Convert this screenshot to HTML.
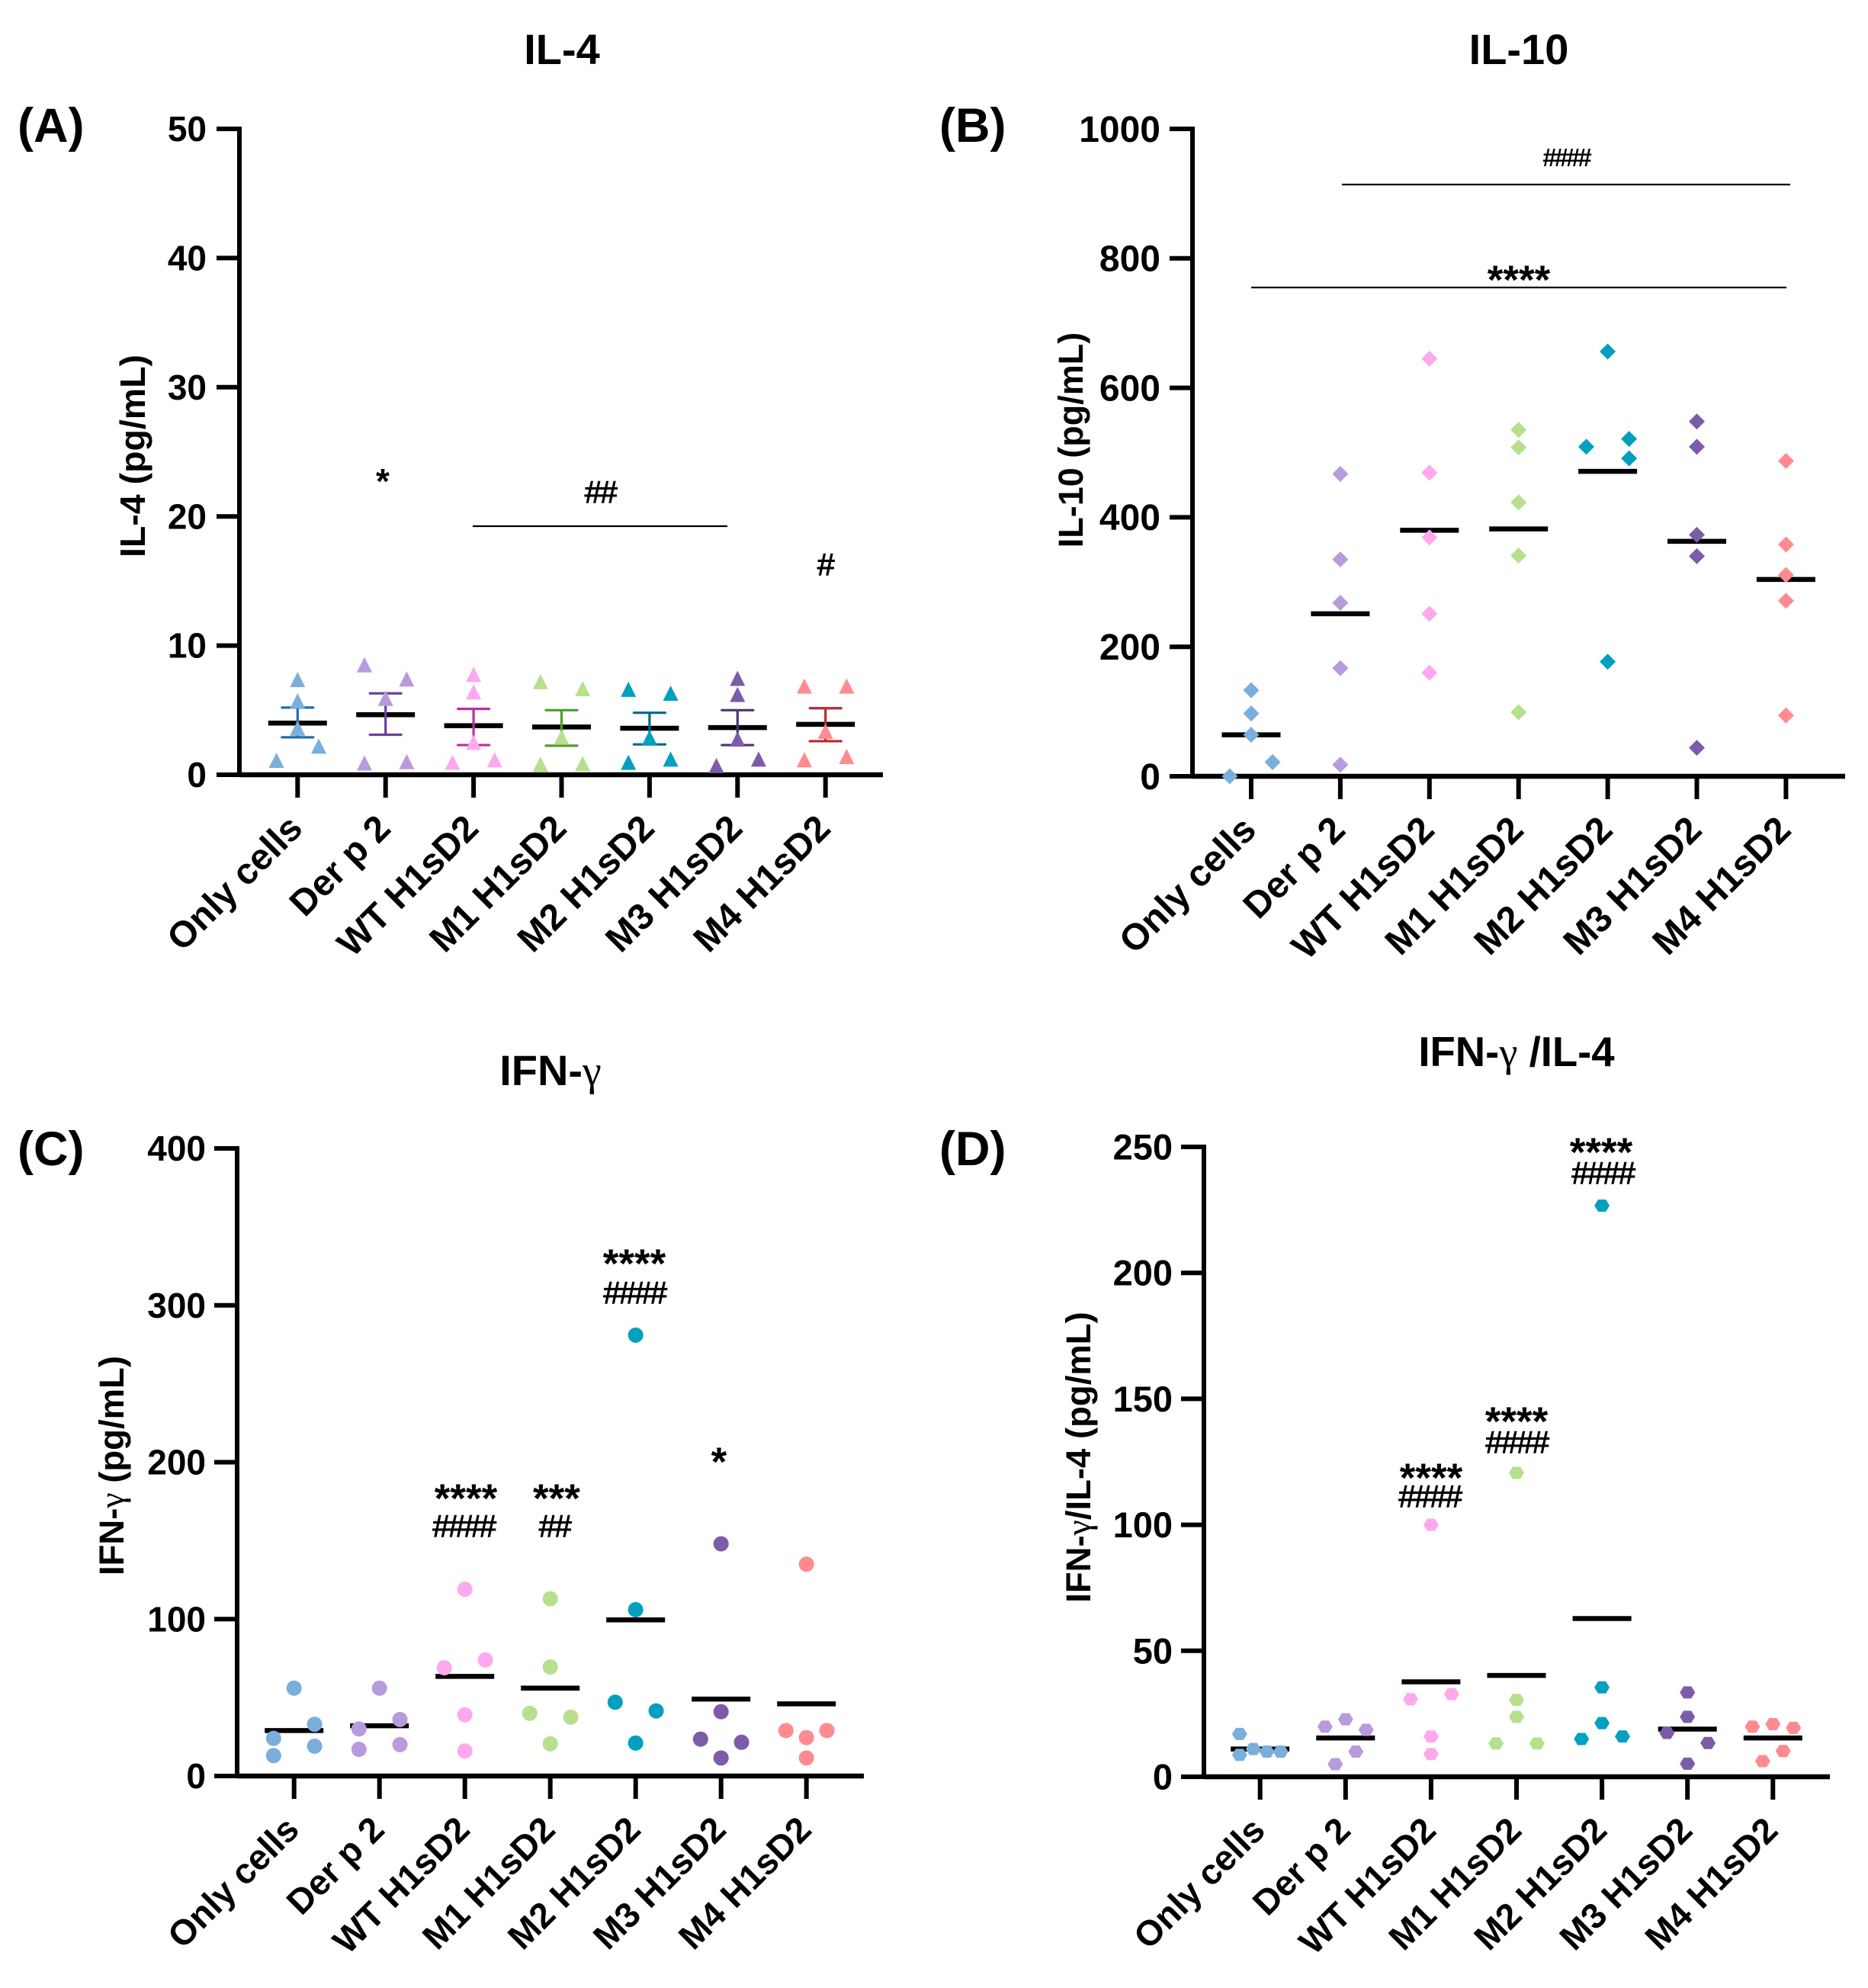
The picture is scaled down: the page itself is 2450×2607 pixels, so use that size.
<!DOCTYPE html>
<html lang="en">
<head>
<meta charset="utf-8">
<title>Cytokine levels: IL-4, IL-10, IFN-γ and IFN-γ/IL-4</title>
<style>
html,body{margin:0;padding:0;background:#fff}
svg{display:block}
text{font-family:"Liberation Sans",Arial,sans-serif;fill:#000}
.b{font-weight:700}
.title{font-size:56px;font-weight:700;text-anchor:middle}
.panel{font-size:63px;font-weight:700}
.ytitle{font-size:45.5px;font-weight:700;text-anchor:middle}
.gamma{font-family:"Liberation Serif",serif;font-weight:400}
.star{font-size:53px;font-weight:700;text-anchor:middle}
.hash{font-size:41px;font-weight:400;text-anchor:middle;letter-spacing:-2.5px;stroke:#000;stroke-width:1px}
.sig{stroke:#000;stroke-width:2.2px}
</style>
</head>
<body>
<svg id="figure" xmlns="http://www.w3.org/2000/svg" width="2450" height="2607" viewBox="0 0 2450 2607">
  <rect width="2450" height="2607" fill="#fff"/>

  <text class="title" x="737" y="84">IL-4</text>
  <text class="title" x="1992" y="84">IL-10</text>
  <text class="title" x="722" y="1423">IFN-<tspan class="gamma">γ</tspan></text>
  <text class="title" style="font-size:54.5px" x="1989" y="1398">IFN-<tspan class="gamma">γ</tspan> /IL-4</text>

  <text class="panel" x="23" y="186">(A)</text>
  <text class="panel" x="1232" y="186">(B)</text>
  <text class="panel" x="23" y="1528">(C)</text>
  <text class="panel" x="1232" y="1528">(D)</text>

  <text class="ytitle" style="font-size:46.5px" transform="translate(190,598) rotate(-90)">IL-4 (pg/mL)</text>
  <text class="ytitle" style="font-size:45px" transform="translate(1420,577) rotate(-90)">IL-10 (pg/mL)</text>
  <text class="ytitle" transform="translate(162,1922) rotate(-90)">IFN-<tspan class="gamma">γ</tspan> (pg/mL)</text>
  <text class="ytitle" transform="translate(1430,1911) rotate(-90)">IFN-<tspan class="gamma">γ</tspan>/IL-4 (pg/mL)</text>

  <!-- significance annotations -->
  <text class="star" style="font-size:46px" x="502" y="647">*</text>
  <line class="sig" x1="620" y1="690" x2="954" y2="690"/>
  <text class="hash" x="787" y="659">##</text>
  <text class="hash" x="1082" y="754">#</text>

  <line class="sig" x1="1760" y1="242" x2="2348" y2="242"/>
  <text class="hash" style="font-size:33px;letter-spacing:-3px;font-weight:700;stroke-width:0" x="2054" y="218">####</text>
  <line class="sig" x1="1641" y1="377" x2="2343" y2="377"/>
  <text class="star" x="1992" y="385">****</text>

  <text class="star" x="611" y="1983">****</text>
  <text class="hash" x="608" y="2015">####</text>
  <text class="star" x="730" y="1983">***</text>
  <text class="hash" x="727" y="2015">##</text>
  <text class="star" x="832" y="1675">****</text>
  <text class="hash" x="832" y="1709">####</text>
  <text class="star" x="943" y="1935">*</text>

  <text class="star" x="1877" y="1956">****</text>
  <text class="hash" x="1875" y="1976">####</text>
  <text class="star" x="1989" y="1882">****</text>
  <text class="hash" x="1989" y="1905">####</text>
  <text class="star" x="2100" y="1529">****</text>
  <text class="hash" x="2102" y="1552">####</text>

  <g id="plots"></g>
</svg>

<script>
const categories = ['Only cells', 'Der p 2', 'WT H1sD2', 'M1 H1sD2', 'M2 H1sD2', 'M3 H1sD2', 'M4 H1sD2'];

const il4Ticks = [0, 10, 20, 30, 40, 50];
const il4Values = [
  [7.25, 5.6, 3.5, 1.0, 2.1],
  [8.4, 7.3, 5.8, 0.8, 0.9],
  [7.65, 6.3, 2.4, 0.85, 1.05],
  [7.1, 6.55, 2.8, 0.7, 0.75],
  [6.5, 6.2, 2.75, 0.85, 1.1],
  [7.35, 6.1, 2.65, 0.6, 1.1],
  [6.75, 6.75, 3.25, 1.05, 1.3]
];
const il4Slots = [
  [0, 0, 0, -1, 1],
  [-1, 1, 0, -1, 1],
  [0, 0, 0, -1, 1],
  [-1, 1, 0, -1, 1],
  [-1, 1, 0, -1, 1],
  [0, 0, 0, -1, 1],
  [-1, 1, 0, -1, 1]
];
const il4Means = [4.0, 4.65, 3.8, 3.7, 3.6, 3.65, 3.9];
const il4Upper = [5.2, 6.3, 5.1, 5.0, 4.8, 5.0, 5.15];
const il4Lower = [2.9, 3.1, 2.3, 2.25, 2.35, 2.3, 2.6];

const il10Ticks = [0, 200, 400, 600, 800, 1000];
const il10Values = [
  [133, 97, 64, 22, 0],
  [467, 335, 268, 167, 18],
  [645, 469, 369, 251, 160],
  [535, 508, 423, 341, 99],
  [656, 521, 509, 491, 177],
  [548, 509, 373, 340, 44],
  [487, 358, 311, 271, 94]
];
const il10Slots = [
  [0, 0, 0, 1, -1],
  [0, 0, 0, 0, 0],
  [0, 0, 0, 0, 0],
  [0, 0, 0, 0, 0],
  [0, 1, -1, 1, 0],
  [0, 0, 0, 0, 0],
  [0, 0, 0, 0, 0]
];
const il10Means = [64, 251, 380, 382, 471, 363, 304];

const ifnTicks = [0, 100, 200, 300, 400];
const ifnValues = [
  [56, 33, 24, 19, 13],
  [56, 36, 30, 20, 17],
  [119, 74, 69, 39, 16],
  [113, 69.5, 40, 37.5, 20.5],
  [281, 106, 47, 41.5, 21],
  [148, 41, 23.5, 21.5, 11.5],
  [135, 29, 29, 24.5, 11.5]
];
const ifnSlots = [
  [0, 1, -1, 1, -1],
  [0, 1, -1, 1, -1],
  [0, 1, -1, 0, 0],
  [0, 0, -1, 1, 0],
  [0, 0, -1, 1, 0],
  [0, 0, -1, 1, 0],
  [0, -1, 1, 0, 0]
];
const ifnMeans = [29, 32, 63.5, 56, 99.5, 49, 46];

const ratioTicks = [0, 50, 100, 150, 200, 250];
const ratioValues = [
  [17, 11, 8.7, 10, 10],
  [22.8, 19.9, 18.6, 10, 5],
  [100, 32.8, 30.8, 16, 9],
  [120.6, 30.5, 23.8, 13.2, 13.2],
  [226.7, 35.5, 21.3, 16, 15],
  [33.5, 23.8, 17.4, 13.4, 5.2],
  [20.9, 19.9, 19.4, 10.2, 6.2]
];
const ratioSlots = [
  [-1, -0.33, -1, 0.33, 1],
  [0, -1, 1, 0.5, -0.5],
  [0, 1, -1, 0, 0],
  [0, 0, 0, -1, 1],
  [0, 0, 0, 1, -1],
  [0, 0, -1, 1, 0],
  [0, -1, 1, 0.5, -0.5]
];
const ratioMeans = [11, 15.4, 37.7, 40.2, 62.8, 18.9, 15.4];

const pointColors = ['#7aaedc', '#b89bdc', '#ffa8ee', '#b6e08e', '#00a0be', '#7c5ca8', '#ff8a90'];
const errorColors = ['#1f6fa8', '#6b3fa0', '#b8309e', '#4b9e2a', '#006a85', '#4a3570', '#b8282c'];

const SVGNS = 'http://www.w3.org/2000/svg';
const root = document.getElementById('plots');

function make(parent, tag, attrs, text) {
  const el = document.createElementNS(SVGNS, tag);
  for (const k in attrs) el.setAttribute(k, attrs[k]);
  if (text !== undefined) el.textContent = text;
  parent.appendChild(el);
  return el;
}

function markerPoints(shape, x, y) {
  if (shape === 'triangle') return `${x},${y - 12} ${x + 10},${y + 8} ${x - 10},${y + 8}`;
  if (shape === 'diamond') return `${x},${y - 10.5} ${x + 10.5},${y} ${x},${y + 10.5} ${x - 10.5},${y}`;
  return `${x - 10},${y} ${x - 5},${y - 8} ${x + 5},${y - 8} ${x + 10},${y} ${x + 5},${y + 8} ${x - 5},${y + 8}`;
}

function drawPanel(cfg) {
  const maxTick = Math.max.apply(null, cfg.ticks);
  const yScale = v => cfg.y0 - (v / maxTick) * (cfg.y0 - cfg.yTop);
  const xScale = i => cfg.x0 + i * cfg.step;
  const jitter = cfg.step * 0.24;

  const g = make(root, 'g', {});
  
  

  const yAxis = make(g, 'line', { x1: cfg.axisX, x2: cfg.axisX, y1: cfg.yTop - 3, y2: cfg.y0 + 3, stroke: '#000', 'stroke-width': 6 });
  
  

  const xAxis = make(g, 'line', { x1: cfg.axisX, x2: cfg.right, y1: cfg.y0, y2: cfg.y0, stroke: '#000', 'stroke-width': 6.5 });
  
  

  cfg.ticks.forEach(t => {
    const y = yScale(t);
    const mark = make(g, 'line', { x1: cfg.axisX - 30, x2: cfg.axisX, y1: y, y2: y, stroke: '#000', 'stroke-width': 6 });
    
    
    const label = make(g, 'text', { x: cfg.labelX, y: y + cfg.tickSize * 0.35, 'text-anchor': 'end', 'font-size': cfg.tickSize, 'font-weight': 700 }, String(t));
    
    
  });

  categories.forEach((c, i) => {
    const x = xScale(i);
    const mark = make(g, 'line', { x1: x, x2: x, y1: cfg.y0, y2: cfg.y0 + 30, stroke: '#000', 'stroke-width': 6 });
    
    
    const lx = x + 9;
    const ly = cfg.y0 + 73;
    const label = make(g, 'text', { transform: `translate(${lx},${ly}) rotate(-45)`, 'text-anchor': 'end', 'font-size': cfg.catSize, 'font-weight': 700 }, c);
    
    

    const mean = make(g, 'line', { x1: x - 38.5, x2: x + 38.5, y1: yScale(cfg.means[i]), y2: yScale(cfg.means[i]), stroke: '#000', 'stroke-width': 6.5 });
    
    

    if (cfg.upper) {
      const stem = make(g, 'line', { x1: x, x2: x, y1: yScale(cfg.upper[i]), y2: yScale(cfg.lower[i]), stroke: errorColors[i], 'stroke-width': 3.2 });
      
      
      const capTop = make(g, 'line', { x1: x - 20.5, x2: x + 20.5, y1: yScale(cfg.upper[i]), y2: yScale(cfg.upper[i]), stroke: errorColors[i], 'stroke-width': 3.2, 'stroke-linecap': 'round' });
      
      
      const capBottom = make(g, 'line', { x1: x - 20.5, x2: x + 20.5, y1: yScale(cfg.lower[i]), y2: yScale(cfg.lower[i]), stroke: errorColors[i], 'stroke-width': 3.2, 'stroke-linecap': 'round' });
      
      
    }

    cfg.values[i].forEach((v, j) => {
      const px = x + cfg.slots[i][j] * jitter;
      const py = yScale(v);
      let mark2;
      if (cfg.shape === 'circle') {
        mark2 = make(g, 'circle', { cx: px, cy: py, r: 10, fill: pointColors[i] });
      } else {
        mark2 = make(g, 'polygon', { points: markerPoints(cfg.shape, px, py), fill: pointColors[i] });
      }
      
      
    });
  });
}

drawPanel({ name: 'il4', ticks: il4Ticks, values: il4Values, slots: il4Slots, means: il4Means, upper: il4Upper, lower: il4Lower, shape: 'triangle', axisX: 314, right: 1158, yTop: 169, y0: 1016, x0: 390.3, step: 115.4, labelX: 271, tickSize: 46, catSize: 48 });
drawPanel({ name: 'il10', ticks: il10Ticks, values: il10Values, slots: il10Slots, means: il10Means, shape: 'diamond', axisX: 1564, right: 2420, yTop: 169, y0: 1018, x0: 1641, step: 116.9, labelX: 1522, tickSize: 48, catSize: 48.5 });
drawPanel({ name: 'ifn-gamma', ticks: ifnTicks, values: ifnValues, slots: ifnSlots, means: ifnMeans, shape: 'circle', axisX: 311, right: 1133, yTop: 1506, y0: 2329, x0: 385.7, step: 112, labelX: 270, tickSize: 46, catSize: 46.5 });
drawPanel({ name: 'ratio', ticks: ratioTicks, values: ratioValues, slots: ratioSlots, means: ratioMeans, shape: 'hexagon', axisX: 1579, right: 2400, yTop: 1504, y0: 2330, x0: 1652.7, step: 112.1, labelX: 1538, tickSize: 47, catSize: 46.5 });
</script>
</body>
</html>
